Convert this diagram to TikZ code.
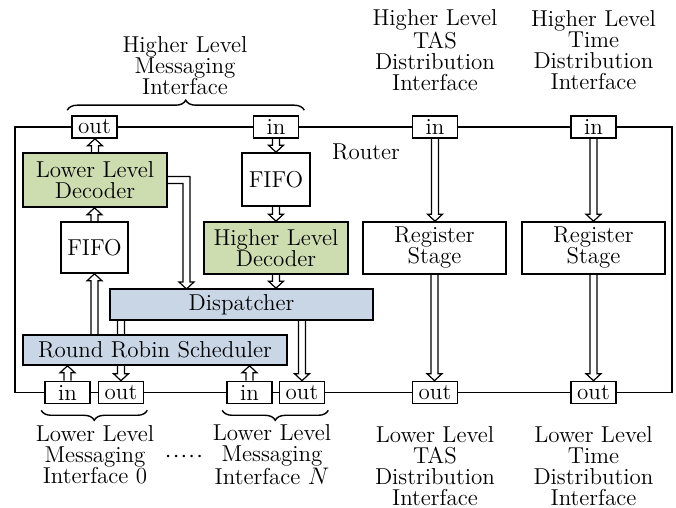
\documentclass[tikz,border=0pt]{standalone}
\usetikzlibrary{calc,backgrounds,decorations.pathreplacing}
\definecolor{decgreen}{RGB}{206,221,176}
\definecolor{schedblue}{RGB}{200,214,230}
\newcommand\fatv[2]{\draw[fatarrow] let \p1=(#1), \p2=(#2), \n1={((\y2>\y1)*2-1)*3.5pt} in
  (\x1-1.75pt,\y1) -- (\x1-1.75pt,\y2-\n1) -- (\x1-3.75pt,\y2-\n1) -- (\x1,\y2)
  -- (\x1+3.75pt,\y2-\n1) -- (\x1+1.75pt,\y2-\n1) -- (\x1+1.75pt,\y1);}
\begin{document}
\begin{tikzpicture}[x=0.5pt,y=-0.5pt,
  every node/.style={font=\fontsize{11.5pt}{10.5pt}\selectfont, inner sep=0pt, align=center},
  box/.style={draw, line width=0.8pt, fill=white},
  port/.style={box, minimum width=22.5pt, minimum height=11pt},
  fatarrow/.style={draw, fill=white, line width=0.6pt, line join=miter},
  brc/.style={decorate, decoration={brace, amplitude=5pt}, line width=0.7pt}]
\useasboundingbox (0,0) rectangle (676,508);

% router frame
\draw[line width=0.8pt] (15,127) rectangle (672,392.5);
\node[anchor=center] (routerlbl) at (366,152) {Router};

% ports
\node[port] (outT) at (94.5,127) {out};
\node[port] (inM) at (276,127) {in};
\node[port] (inTAS) at (435,127) {in};
\node[port] (inTime) at (593.5,127) {in};
\node[port] (in1) at (67.5,392.5) {in};
\node[port] (out1) at (121,392.5) {out};
\node[port] (in2) at (249.5,392.5) {in};
\node[port] (out2) at (302,392.5) {out};
\node[port] (outTAS) at (435,392.5) {out};
\node[port] (outTime) at (593.5,392.5) {out};

% blocks
\node[box, fill=decgreen, minimum width=72pt, minimum height=27pt] (LLD) at (95,180) {Lower Level\\Decoder};
\node[box, minimum width=33.5pt, minimum height=25.5pt] (FIFOL) at (94.5,247.5) {FIFO};
\node[box, minimum width=34pt, minimum height=26.5pt] (FIFOR) at (276,179.5) {FIFO};
\node[box, fill=decgreen, minimum width=72pt, minimum height=26pt] (HLD) at (276,248) {Higher Level\\Decoder};
\node[box, fill=schedblue, minimum width=131.5pt, minimum height=15.5pt] (disp) at (241.5,304.5) {Dispatcher};
\node[box, fill=schedblue, minimum width=132pt, minimum height=15pt] (sched) at (155,350) {Round Robin Scheduler};
\node[box, minimum width=71.5pt, minimum height=26pt] (reg1) at (434.5,248) {Register\\Stage};
\node[box, minimum width=71.5pt, minimum height=26pt] (reg2) at (593.5,248) {Register\\Stage};
\coordinate (elbow) at (186.5,289);

% labels
\node (lblHM) at (185,66) {Higher Level\\Messaging\\Interface};
\node (lblHT) at (435,50) {Higher Level\\TAS\\Distribution\\Interface};
\node (lblHTi) at (593.5,50) {Higher Level\\Time\\Distribution\\Interface};
\node (lblL0) at (95,455) {Lower Level\\Messaging\\Interface 0};
\node (lblLN) at (272,455) {Lower Level\\Messaging\\Interface $N$};
\node (dots) at (184,457) {${\cdot}\hspace{0.6pt}{\cdot}\hspace{0.6pt}{\cdot}\hspace{0.6pt}{\cdot}\hspace{0.6pt}{\cdot}$};
\node (lblLT) at (435,466) {Lower Level\\TAS\\Distribution\\Interface};
\node (lblLTi) at (593.5,466) {Lower Level\\Time\\Distribution\\Interface};

% braces
\draw[brc] ($(outT.north west)+(-4,-5)$) -- ($(inM.north east)+(5,-5)$);
\draw[brc] ($(out1.south east)+(3,6)$) -- ($(in1.south west)+(-3,6)$);
\draw[brc] ($(out2.south east)+(3,6)$) -- ($(in2.south west)+(-4,6)$);

% arrows
\begin{scope}[on background layer]
\fatv{LLD.north}{outT.south}
\fatv{FIFOL.north}{LLD.south}
\fatv{sched.north -| FIFOL.south}{FIFOL.south}
\fatv{in1.north}{sched.south -| in1.north}
\fatv{in2.north}{sched.south -| in2.north}
\fatv{disp.south -| out1.north}{out1.north}
\fatv{disp.south -| out2.north}{out2.north}
\fatv{inM.south}{FIFOR.north}
\fatv{FIFOR.south}{HLD.north}
\fatv{HLD.south}{disp.north -| HLD.south}
\fatv{inTAS.south}{reg1.north}
\fatv{reg1.south}{outTAS.north}
\fatv{inTime.south}{reg2.north}
\fatv{reg2.south}{outTime.north}
\draw[fatarrow] let \p1=(LLD.east), \p2=(elbow) in
  (\x1,\y1+1.75pt) -- (\x2+1.75pt,\y1+1.75pt) -- (\x2+1.75pt,\y2+3.5pt) -- (\x2+3.75pt,\y2+3.5pt)
  -- (\x2,\y2) -- (\x2-3.75pt,\y2+3.5pt) -- (\x2-1.75pt,\y2+3.5pt) -- (\x2-1.75pt,\y1-1.75pt)
  -- (\x1,\y1-1.75pt);
\end{scope}
\end{tikzpicture}
\end{document}
